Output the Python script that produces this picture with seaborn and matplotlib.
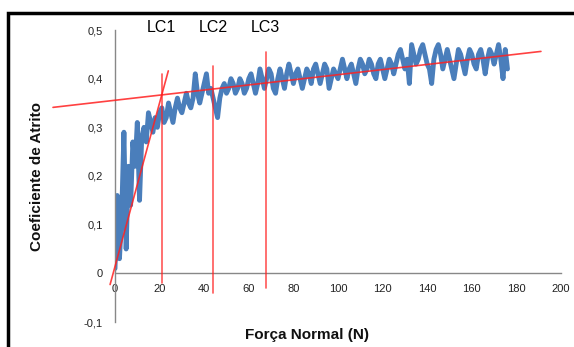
import matplotlib
matplotlib.use("Agg")
import matplotlib.pyplot as plt
import seaborn as sns
import pandas as pd
from matplotlib.ticker import FuncFormatter
from matplotlib.patches import Rectangle

# ---- data ----
force = list(range(0, 177))
coef = [
    0.01, 0.16, 0.03, 0.12, 0.29, 0.05, 0.22, 0.14, 0.27, 0.22,
    0.31, 0.15, 0.28, 0.30, 0.27, 0.33, 0.31, 0.29, 0.32, 0.30,
    0.33, 0.34, 0.31, 0.32, 0.35, 0.33, 0.31, 0.34, 0.36, 0.34,
    0.33, 0.35, 0.37, 0.35, 0.34, 0.36, 0.41, 0.37, 0.35, 0.37,
    0.39, 0.41, 0.37, 0.38, 0.36, 0.34, 0.32, 0.36, 0.38, 0.39,
    0.37, 0.38, 0.40, 0.39, 0.37, 0.38, 0.40, 0.39, 0.37, 0.38,
    0.40, 0.41, 0.39, 0.37, 0.39, 0.42, 0.40, 0.38, 0.40, 0.42,
    0.41, 0.38, 0.37, 0.40, 0.42, 0.40, 0.38, 0.41, 0.43, 0.41,
    0.39, 0.41, 0.42, 0.40, 0.38, 0.40, 0.42, 0.41, 0.39, 0.42,
    0.43, 0.41, 0.39, 0.41, 0.43, 0.42, 0.38, 0.40, 0.42, 0.41,
    0.40, 0.42, 0.44, 0.42, 0.40, 0.42, 0.43, 0.41, 0.39, 0.42,
    0.44, 0.43, 0.41, 0.42, 0.44, 0.43, 0.41, 0.40, 0.43, 0.44,
    0.42, 0.40, 0.42, 0.44, 0.43, 0.41, 0.43, 0.45, 0.46, 0.44,
    0.42, 0.44, 0.39, 0.47, 0.45, 0.43, 0.44, 0.46, 0.47, 0.45,
    0.43, 0.42, 0.39, 0.44, 0.46, 0.47, 0.45, 0.42, 0.44, 0.46,
    0.44, 0.42, 0.40, 0.43, 0.46, 0.45, 0.43, 0.41, 0.44, 0.46,
    0.45, 0.43, 0.42, 0.45, 0.46, 0.44, 0.41, 0.44, 0.46, 0.45,
    0.43, 0.45, 0.47, 0.44, 0.40, 0.46, 0.42,
]

lc_labels = ["LC1", "LC2", "LC3"]
lc_x = [21, 44, 67.5]
lc_top = [0.41, 0.425, 0.455]
lc_bottom = [-0.02, -0.04, -0.03]

steep_x = [-2.2, 23.9]
steep_y = [-0.023, 0.416]
flat_x = [-27.8, 191]
flat_y = [0.341, 0.456]

x_ticks = [0, 20, 40, 60, 80, 100, 120, 140, 160, 180, 200]
y_ticks = [-0.1, 0, 0.1, 0.2, 0.3, 0.4, 0.5]

# ---- style ----
sns.set_style("white")
plt.rcParams["font.family"] = ["Liberation Sans", "DejaVu Sans"]

fig = plt.figure(figsize=(5.74, 3.47), dpi=100)
ax = fig.add_axes([115 / 574, 1 - 322 / 347, (561 - 115) / 574, (322 - 30) / 347])

df = pd.DataFrame({"Força Normal (N)": force, "Coeficiente de Atrito": coef})
sns.lineplot(data=df, x="Força Normal (N)", y="Coeficiente de Atrito", ax=ax,
             color="#4a7ebb", linewidth=3.5, zorder=2)

red = "#ff2020"
for xv, t, b in zip(lc_x, lc_top, lc_bottom):
    ax.plot([xv, xv], [b, t], color=red, lw=1.2, alpha=0.75, clip_on=False, zorder=3)
ax.plot(steep_x, steep_y, color=red, lw=1.2, alpha=0.85, clip_on=False, zorder=3)
ax.plot(flat_x, flat_y, color=red, lw=1.2, alpha=0.85, clip_on=False, zorder=3)

for lab, xv in zip(lc_labels, lc_x):
    ax.text(xv, 0.506, lab, ha="center", va="center", fontsize=11.5,
            color="#000000", clip_on=False)

ax.set_xlim(0, 200)
ax.set_ylim(-0.1, 0.5)
ax.set_xticks(x_ticks)
ax.set_yticks(y_ticks)

def yfmt(v, pos):
    if abs(v) < 1e-9:
        return "0"
    return f"{v:.1f}".replace(".", ",")

ax.yaxis.set_major_formatter(FuncFormatter(yfmt))

for s in ["top", "right"]:
    ax.spines[s].set_visible(False)
ax.spines["bottom"].set_position(("data", 0))
for s in ["left", "bottom"]:
    ax.spines[s].set_color("#888888")
    ax.spines[s].set_linewidth(1.0)

ax.tick_params(axis="both", which="major", direction="out", length=4,
               width=1.0, color="#888888", labelsize=8, labelcolor="#222222")
ax.tick_params(axis="x", pad=4)
ax.tick_params(axis="y", pad=5)

ax.set_xlabel("")
ax.set_ylabel("")
fig.text(307 / 574, 1 - 335 / 347, "Força Normal (N)", ha="center", va="center",
         fontsize=11, fontweight="bold", color="#111111")
fig.text(37 / 574, 1 - 177 / 347, "Coeficiente de Atrito", ha="center", va="center",
         rotation=90, fontsize=11, fontweight="bold", color="#111111")

# outer black frame
fig.patches.append(Rectangle((8 / 574, -0.2), 1.5, (1 - 13 / 347) + 0.2,
                             transform=fig.transFigure, fill=False,
                             edgecolor="black", linewidth=2.5, zorder=10))

fig.savefig("out.png", dpi=100)
